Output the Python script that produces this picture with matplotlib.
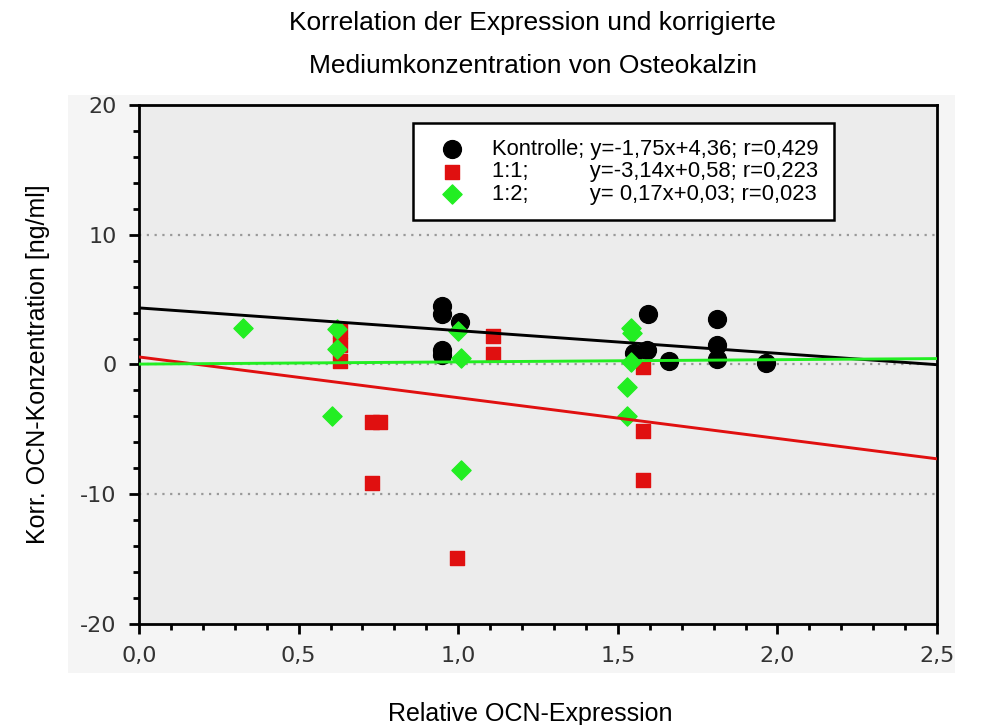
import numpy as np
import matplotlib
matplotlib.use("Agg")
import matplotlib.pyplot as plt

# Values
kontrolle_x = [0.95, 0.95, 1.005, 0.95, 0.95, 1.55, 1.59, 1.595, 1.66, 1.81, 1.81, 1.81, 1.965]
kontrolle_y = [4.5, 3.9, 3.3, 1.1, 0.7, 0.9, 1.1, 3.9, 0.3, 3.5, 1.5, 0.4, 0.15]

r11_x = [0.63, 0.63, 0.63, 0.73, 0.755, 0.73, 0.995, 1.11, 1.11, 1.58, 1.58, 1.58]
r11_y = [2.6, 1.5, 0.3, -4.45, -4.45, -9.1, -14.9, 2.2, 0.8, -0.2, -5.1, -8.9]

r12_x = [0.326, 0.62, 0.62, 0.605, 1.0, 1.01, 1.01, 1.54, 1.545, 1.54, 1.53, 1.53]
r12_y = [2.8, 2.7, 1.2, -4.0, 2.6, 0.5, -8.1, 2.8, 2.4, 0.2, -1.7, -4.0]

# Regression lines (slope, intercept) from the legend
fits = {
    "Kontrolle": (-1.75, 4.36),
    "1:1": (-3.14, 0.58),
    "1:2": (0.17, 0.03),
}

labels = [
    "Kontrolle; y=-1,75x+4,36; r=0,429",
    "1:1;          y=-3,14x+0,58; r=0,223",
    "1:2;          y= 0,17x+0,03; r=0,023",
]

x_ticks = [0.0, 0.5, 1.0, 1.5, 2.0, 2.5]
x_ticklabels = ["0,0", "0,5", "1,0", "1,5", "2,0", "2,5"]
y_ticks = [-20, -10, 0, 10, 20]
y_ticklabels = ["-20", "-10", "0", "10", "20"]

black = "#000000"
red = "#e01010"
green = "#22ee22"

fig = plt.figure(figsize=(10.01, 7.25), dpi=100)
fig.patch.set_facecolor("white")

# light panel behind the plot area
bg = fig.add_axes([0.068, 0.072, 0.886, 0.797], zorder=-5)
bg.set_facecolor("#f5f5f5")
bg.set_xticks([])
bg.set_yticks([])
for sp in bg.spines.values():
    sp.set_visible(False)

ax = fig.add_axes([0.1389, 0.1393, 0.7972, 0.7159])
ax.set_facecolor("#ececec")

ax.scatter(kontrolle_x, kontrolle_y, s=165, marker="o", color=black, zorder=3, label=labels[0])
ax.scatter(r11_x, r11_y, s=105, marker="s", color=red, zorder=4, label=labels[1])
ax.scatter(r12_x, r12_y, s=95, marker="D", color=green, zorder=5, label=labels[2])

xx = np.array([0.0, 2.5])
for (name, (m, b)), c in zip(fits.items(), [black, red, green]):
    ax.plot(xx, m * xx + b, color=c, lw=2.1, zorder=6)

for yv in [-10, 0, 10]:
    ax.axhline(yv, color="#999999", ls=(0, (1, 2.5)), lw=1.6, zorder=1)

ax.set_xlim(0, 2.5)
ax.set_ylim(-20, 20)
ax.set_xticks(x_ticks)
ax.set_xticklabels(x_ticklabels)
ax.set_yticks(y_ticks)
ax.set_yticklabels(y_ticklabels)
ax.set_xticks(np.arange(0, 2.51, 0.1), minor=True)
ax.set_yticks(np.arange(-20, 21, 2), minor=True)
ax.tick_params(which="major", length=7, width=2, direction="out", labelsize=16,
               labelcolor="#333333", pad=9)
ax.tick_params(which="minor", length=4, width=2, direction="out")
for sp in ax.spines.values():
    sp.set_linewidth(2)

ax.set_xlabel("Relative OCN-Expression", fontsize=18, family="Liberation Sans")
ax.set_ylabel("Korr. OCN-Konzentration [ng/ml]", fontsize=18, family="Liberation Sans")
ax.xaxis.set_label_coords(0.49, -0.15)
ax.yaxis.set_label_coords(-0.112, 0.5)

fig.text(0.532, 0.968, "Korrelation der Expression und korrigierte", ha="center", va="center",
         fontsize=19, family="Liberation Sans")
fig.text(0.532, 0.909, "Mediumkonzentration von Osteokalzin", ha="center", va="center",
         fontsize=19, family="Liberation Sans")

leg = ax.legend(loc="upper left", bbox_to_anchor=(0.343, 0.965), fancybox=False,
                framealpha=1, edgecolor="black",
                prop={"family": "Liberation Sans", "size": 15.8},
                labelspacing=0.08, handletextpad=0.7, borderpad=0.7,
                handlelength=2.2, borderaxespad=0)
leg.get_frame().set_linewidth(1.8)
leg.set_zorder(10)

fig.savefig("out.png", dpi=100)
